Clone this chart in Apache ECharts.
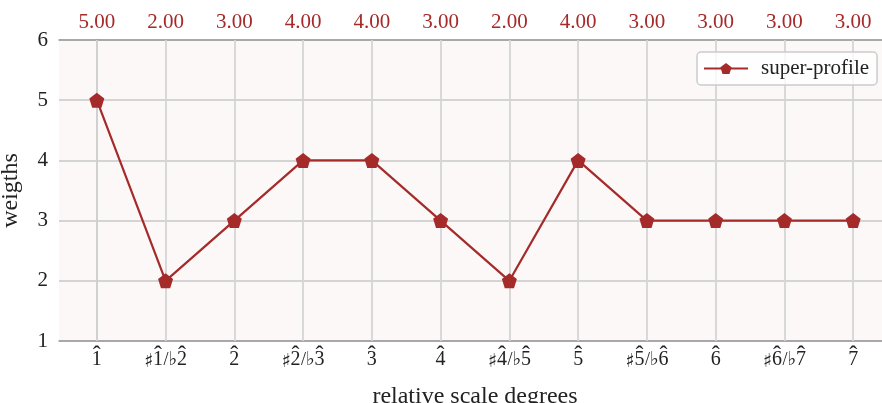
<!DOCTYPE html>
<html>
<head>
<meta charset="utf-8">
<script src="https://cdn.jsdelivr.net/npm/echarts@6/dist/echarts.min.js"></script>
<style>
  html, body { margin: 0; padding: 0; background: #ffffff; }
  #chart { width: 882px; height: 403px; }
</style>
</head>
<body>
<div id="chart"></div>
<script>
// Scale degrees (digit + combining circumflex) and their weights
const degrees = [
  '1\u0302', '\u266F1\u0302/\u266D2\u0302', '2\u0302', '\u266F2\u0302/\u266D3\u0302',
  '3\u0302', '4\u0302', '\u266F4\u0302/\u266D5\u0302', '5\u0302',
  '\u266F5\u0302/\u266D6\u0302', '6\u0302', '\u266F6\u0302/\u266D7\u0302', '7\u0302'
];
const weights = [5, 2, 3, 4, 4, 3, 2, 4, 3, 3, 3, 3];
const yTicks = [1, 2, 3, 4, 5, 6];

const positions = degrees.map((_, i) => i);
const seriesData = weights.map((w, i) => [i, w]);

const SERIF = '"Liberation Serif", "DejaVu Serif", serif';
const SYM = '"DejaVu Serif", "DejaVu Sans", serif';
const RED = '#a52a2a';
const pentagon = 'path://M0,-1 L0.951,-0.309 L0.588,0.809 L-0.588,0.809 L-0.951,-0.309 Z';

// Widths of the pieces of a degree label, so the hats line up over the digits
const W = { sharp: 9, flat: 8, slash: 6, digit: 10 };
const HAT_LINE = 6;

// Turn "♯1̂/♭2̂" into two rich-text lines: hats above, symbols below
function degreeLabel(str) {
  const top = [];
  const bottom = [];
  const chars = Array.from(str);
  for (let i = 0; i < chars.length; i++) {
    const c = chars[i];
    if (c === '\u0302') continue;
    if (c === '\u266F') {
      top.push('{gs| }');
      bottom.push('{sh|\u266F}');
    } else if (c === '\u266D') {
      top.push('{gf| }');
      bottom.push('{fl|\u266D}');
    } else if (c === '/') {
      top.push('{gl| }');
      bottom.push('{sl|/}');
    } else {
      const hasHat = chars[i + 1] === '\u0302';
      top.push(hasHat ? '{h|\u02C6}' : '{gd| }');
      bottom.push('{d|' + c + '}');
    }
  }
  return top.join('') + '\n' + bottom.join('');
}

const degreeRich = {
  h:  { fontFamily: SERIF, fontSize: 24, color: '#222', width: W.digit, align: 'center', lineHeight: HAT_LINE, verticalAlign: 'top' },
  gd: { fontSize: 4, width: W.digit, lineHeight: HAT_LINE },
  gs: { fontSize: 4, width: W.sharp, lineHeight: HAT_LINE },
  gf: { fontSize: 4, width: W.flat, lineHeight: HAT_LINE },
  gl: { fontSize: 4, width: W.slash, lineHeight: HAT_LINE },
  d:  { fontFamily: SERIF, fontSize: 20, color: '#222', width: W.digit, align: 'center', lineHeight: 20 },
  sl: { fontFamily: SERIF, fontSize: 18, color: '#222', width: W.slash, align: 'center', lineHeight: 20 },
  sh: { fontFamily: SYM, fontSize: 19, color: '#222', width: W.sharp, align: 'center', lineHeight: 20, padding: [5, 0, 0, 0] },
  fl: { fontFamily: SYM, fontSize: 19, color: '#222', width: W.flat, align: 'center', lineHeight: 20, padding: [1, 0, 0, 0] }
};

const chart = echarts.init(document.getElementById('chart'), null, { renderer: 'canvas' });

chart.setOption({
  animation: false,
  backgroundColor: '#ffffff',
  grid: {
    left: 59, top: 40, bottom: 62, right: -9,
    outerBoundsMode: 'none', containLabel: false,
    show: true, backgroundColor: '#fcf8f8', borderWidth: 0
  },
  legend: {
    left: 697, top: 52,
    padding: [6, 8, 6, 6],
    itemWidth: 44, itemHeight: 14, itemGap: 10,
    borderColor: '#cccccc', borderWidth: 1.5, borderRadius: 4,
    backgroundColor: 'rgba(255,255,255,0.8)',
    textStyle: { fontFamily: SERIF, fontSize: 21, color: '#222', padding: [0, 0, 0, 8] },
    data: ['super-profile']
  },
  xAxis: [
    {
      type: 'value', position: 'bottom',
      min: -0.55, max: 11.55,
      name: 'relative scale degrees', nameLocation: 'middle', nameGap: 44,
      nameTextStyle: { fontFamily: SERIF, fontSize: 24, color: '#222' },
      axisLine: { show: true, lineStyle: { color: '#999999', width: 1.5 } },
      axisTick: { show: false, customValues: positions },
      axisLabel: {
        customValues: positions, margin: 3,
        formatter: v => degreeLabel(degrees[Math.round(v)]),
        rich: degreeRich
      },
      splitLine: { show: false }
    },
    {
      type: 'value', position: 'top',
      min: -0.55, max: 11.55,
      axisLine: { show: true, lineStyle: { color: '#999999', width: 1.5 } },
      axisTick: { show: false, customValues: positions },
      axisLabel: {
        customValues: positions, margin: 7,
        fontFamily: SERIF, fontSize: 21, color: RED,
        formatter: v => weights[Math.round(v)].toFixed(2)
      },
      splitLine: { show: false }
    }
  ],
  yAxis: {
    type: 'value', min: yTicks[0], max: yTicks[yTicks.length - 1], interval: 1,
    name: 'weigths', nameLocation: 'middle', nameGap: 36,
    nameTextStyle: { fontFamily: SERIF, fontSize: 24, color: '#222' },
    axisLine: { show: true, lineStyle: { color: '#999999', width: 1.5 } },
    axisTick: { show: false },
    axisLabel: { margin: 11, fontFamily: SERIF, fontSize: 21, color: '#222' },
    splitLine: { show: true, lineStyle: { color: '#d4d4d4', width: 1.8 } }
  },
  series: [
    {
      name: 'super-profile',
      type: 'line',
      xAxisIndex: 0,
      data: seriesData,
      symbol: pentagon, symbolSize: 15,
      lineStyle: { color: RED, width: 2.2 },
      itemStyle: { color: RED },
      z: 5,
      markLine: {
        silent: true, symbol: 'none', label: { show: false },
        lineStyle: { color: '#d4d4d4', width: 1.8, type: 'solid' },
        data: positions.map(p => ({ xAxis: p })),
        z: 1
      }
    }
  ]
});
</script>
</body>
</html>
